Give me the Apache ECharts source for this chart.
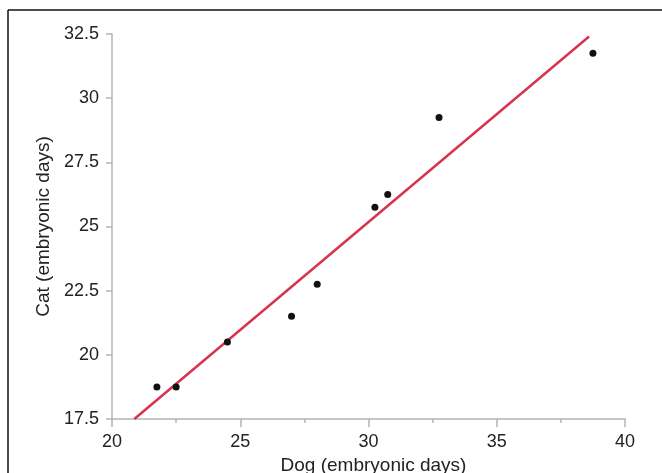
<!DOCTYPE html>
<html>
<head>
<meta charset="utf-8">
<script src="https://cdn.jsdelivr.net/npm/echarts@6/dist/echarts.min.js"></script>
<style>
  html, body { margin: 0; padding: 0; background: #fff; }
  #chart { width: 662px; height: 473px; }
</style>
</head>
<body>
<div id="chart"></div>
<script>
// dog vs cat embryonic days
var dogDays = [21.75, 22.5, 24.5, 27, 28, 30.25, 30.75, 32.75, 38.75];
var catDays = [18.75, 18.75, 20.5, 21.5, 22.75, 25.75, 26.25, 29.25, 31.75];
// fitted line, end points
var fitX = [20.87, 38.6];
var fitY = [17.5, 32.4];

var points = dogDays.map(function (d, i) { return [d, catDays[i]]; });
var fitLine = fitX.map(function (d, i) { return [d, fitY[i]]; });

var axisGray = '#b4b4b4';
var textColor = '#222';
var font = 'Liberation Sans, Arial, sans-serif';

var chart = echarts.init(document.getElementById('chart'));
var option = {
    animation: false,
    backgroundColor: '#fff',
    grid: { left: 112, right: 37, top: 34, bottom: 54, outerBoundsMode: 'none', containLabel: false },
    xAxis: {
        type: 'value',
        min: 20, max: 40, interval: 5,
        name: 'Dog (embryonic days)',
        nameLocation: 'middle',
        nameGap: 34,
        nameTextStyle: { fontSize: 19, color: textColor, fontFamily: font, padding: [0, 0, 0, 10] },
        axisLine: { lineStyle: { color: axisGray, width: 1.5 } },
        axisTick: { length: 8, lineStyle: { color: axisGray, width: 1.5 } },
        minorTick: { show: true, splitNumber: 2, length: 4, lineStyle: { color: axisGray, width: 1.5 } },
        axisLabel: { fontSize: 18, color: textColor, fontFamily: font, margin: 14 },
        splitLine: { show: false }
    },
    yAxis: {
        type: 'value',
        min: 17.5, max: 32.5, interval: 2.5,
        name: 'Cat (embryonic days)',
        nameLocation: 'middle',
        nameGap: 58,
        nameTextStyle: { fontSize: 19, color: textColor, fontFamily: font },
        axisLine: { show: true, lineStyle: { color: axisGray, width: 1.5 } },
        axisTick: { show: true, length: 6, lineStyle: { color: axisGray, width: 1.5 } },
        axisLabel: { fontSize: 18, color: textColor, fontFamily: font, margin: 13 },
        splitLine: { show: false }
    },
    series: [
        {
            type: 'line',
            data: fitLine,
            symbol: 'none',
            lineStyle: { color: '#d8344f', width: 2.5 },
            z: 2
        },
        {
            type: 'scatter',
            data: points,
            symbolSize: 7,
            itemStyle: { color: '#111', opacity: 1 },
            z: 3
        }
    ],
    graphic: [
        { type: 'line', shape: { x1: 8, y1: 10, x2: 662, y2: 10 }, style: { stroke: '#111', lineWidth: 1.5 } },
        { type: 'line', shape: { x1: 8, y1: 10, x2: 8, y2: 473 }, style: { stroke: '#111', lineWidth: 1.5 } }
    ]
};
chart.setOption(option);
</script>
</body>
</html>
